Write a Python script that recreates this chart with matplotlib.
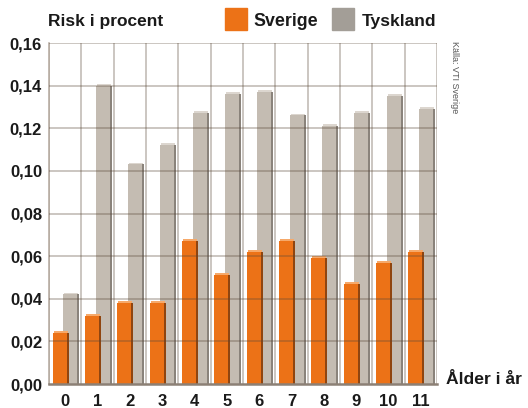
import numpy as np
import matplotlib.pyplot as plt

# data
ages = ['0', '1', '2', '3', '4', '5', '6', '7', '8', '9', '10', '11']
sverige = [0.024, 0.032, 0.038, 0.038, 0.067, 0.051, 0.062, 0.067, 0.059, 0.047, 0.057, 0.062]
tyskland = [0.042, 0.140, 0.103, 0.112, 0.127, 0.136, 0.137, 0.126, 0.121, 0.127, 0.135, 0.129]
yticks = [0.00, 0.02, 0.04, 0.06, 0.08, 0.10, 0.12, 0.14, 0.16]

orange, orange_side, orange_top = '#ec7217', '#8f4510', '#f6a96a'
grey, grey_side, grey_top = '#c4bcb2', '#8a837b', '#dcd6cf'
gridc = '#5a4838'
txt = '#1a1a1a'

plt.rcParams['font.family'] = ['Liberation Sans', 'DejaVu Sans']

fig = plt.figure(figsize=(5.28, 4.08), dpi=100)
ax = fig.add_axes([0.0928, 0.0588, 0.7348, 0.8358])

x = np.arange(len(ages))
w = 0.43      # front face width
sw = 0.06     # side face width
depth = 0.0009  # top face thickness

def draw_series(xc, vals, front, side, top, z):
    ax.bar(xc + w / 2 + sw / 2, vals, width=sw, color=side, zorder=z)
    ax.bar(xc + sw / 2, depth, bottom=vals, width=w, color=top, zorder=z)
    ax.bar(xc, vals, width=w, color=front, zorder=z + 0.1)

draw_series(x + 0.16, tyskland, grey, grey_side, grey_top, 2)
draw_series(x - 0.17, sverige, orange, orange_side, orange_top, 3)

# grid lines (drawn over the bars so they darken them)
for yv in yticks[1:]:
    ax.axhline(yv, color=gridc, alpha=0.4, lw=1.1, zorder=5)
for xv in np.arange(len(ages) + 1) - 0.5:
    ax.axvline(xv, color=gridc, alpha=0.4, lw=1.1, zorder=1)

ax.set_xlim(-0.5, len(ages) - 0.5)
ax.set_ylim(0, 0.16)
ax.set_yticks(yticks)
ax.set_yticklabels([f'{v:.2f}'.replace('.', ',') for v in yticks],
                   fontsize=12, fontweight='bold', color=txt)
ax.set_xticks(x)
ax.set_xticklabels(ages, fontsize=12, fontweight='bold', color=txt)
ax.tick_params(length=0)
ax.tick_params(axis='y', pad=5)
ax.tick_params(axis='x', pad=7.5)

for s in ['top', 'right']:
    ax.spines[s].set_visible(False)
ax.spines['left'].set_color('#b3a79c')
ax.spines['left'].set_linewidth(1.1)
ax.spines['bottom'].set_color('#8c8075')
ax.spines['bottom'].set_linewidth(1.8)
ax.spines['bottom'].set_zorder(6)

top_base = 1 - 26 / 408
fig.text(48 / 528, top_base, 'Risk i procent', fontsize=12.5, fontweight='bold',
         color=txt, va='baseline', ha='left')

# legend
fig.patches.append(plt.Rectangle((225 / 528, 1 - 30 / 408), 22 / 528, 22 / 408,
                                 transform=fig.transFigure, color=orange))
fig.text(253 / 528, top_base, 'Sverige', fontsize=12.8, fontweight='bold',
         color=txt, va='baseline', ha='left')
fig.patches.append(plt.Rectangle((332 / 528, 1 - 30 / 408), 22 / 528, 22 / 408,
                                 transform=fig.transFigure, color='#a39e97'))
fig.text(362 / 528, top_base, 'Tyskland', fontsize=12.6, fontweight='bold',
         color=txt, va='baseline', ha='left')

fig.text(446 / 528, 1 - 384 / 408, 'Ålder i år', fontsize=12.6, fontweight='bold',
         color=txt, va='baseline', ha='left')
fig.text(454 / 528, 1 - 41 / 408, 'Källa: VTI Sverige', fontsize=6.5,
         color='#555555', rotation=-90, va='top', ha='center')

fig.savefig('out.png', dpi=100)
